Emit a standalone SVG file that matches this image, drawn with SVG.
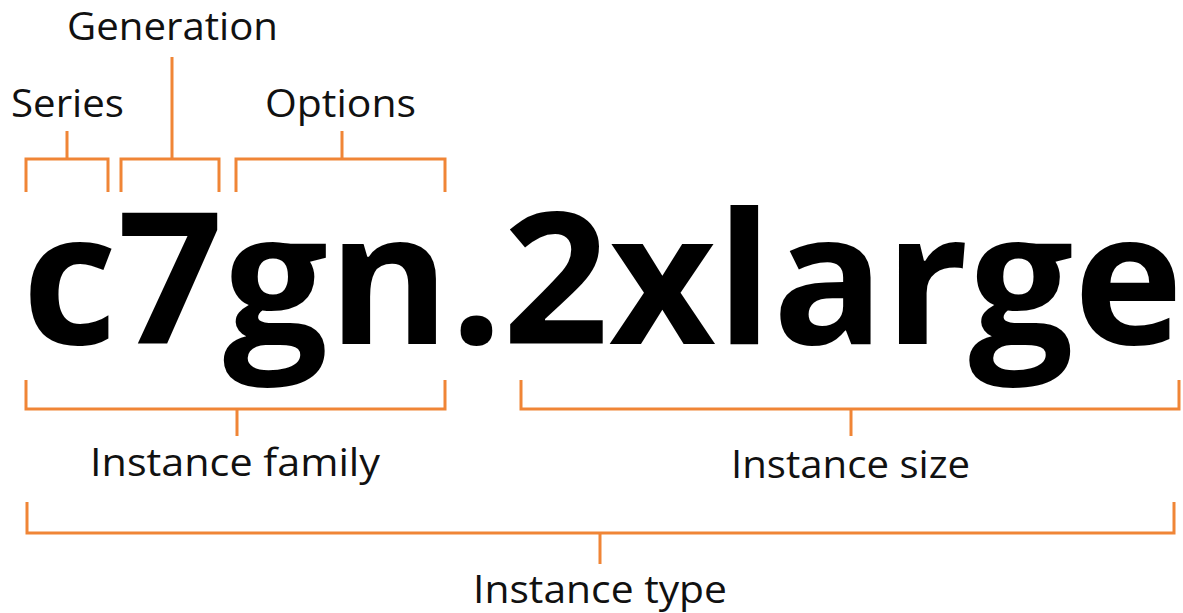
<svg xmlns="http://www.w3.org/2000/svg" width="1183" height="613" viewBox="0 0 1183 613">
<style>
.br{fill:none;stroke:#F08536;stroke-width:3}
.lb{font-family:"Open Sans","Noto Sans",sans-serif;font-size:39px;fill:#111}
.big{font-family:"Open Sans","Noto Sans",sans-serif;font-size:184px;font-weight:700;fill:#000}
</style>
<rect width="1183" height="613" fill="#fff"/>
<g id="name"><text class="big" x="22" y="344" textLength="1161" lengthAdjust="spacingAndGlyphs">c7gn.2xlarge</text></g>
<g id="series"><text class="lb" x="11" y="117" textLength="113" lengthAdjust="spacingAndGlyphs">Series</text></g>
<g id="generation"><text class="lb" x="67" y="40" textLength="211" lengthAdjust="spacingAndGlyphs">Generation</text></g>
<g id="options"><text class="lb" x="265" y="117" textLength="151" lengthAdjust="spacingAndGlyphs">Options</text></g>
<g id="family"><text class="lb" x="90" y="476" textLength="290" lengthAdjust="spacingAndGlyphs">Instance family</text></g>
<g id="size"><text class="lb" x="731" y="478" textLength="239" lengthAdjust="spacingAndGlyphs">Instance size</text></g>
<g id="type"><text class="lb" x="473" y="603" textLength="254" lengthAdjust="spacingAndGlyphs">Instance type</text></g>
<g id="connectors" class="br">
<path class="br" d="M26,192 V159 H108 V192 M67,159 V131"/>
<path class="br" d="M121,192 V159 H219 V192 M172,159 V57"/>
<path class="br" d="M236,192 V159 H445 V192 M342,159 V131"/>
<path class="br" d="M26,380 V409 H445 V380 M237,409 V436"/>
<path class="br" d="M521,380 V409 H1179 V380 M851,409 V436"/>
<path class="br" d="M27,502 V533 H1174 V502 M600,533 V564"/>
</g>
</svg>
